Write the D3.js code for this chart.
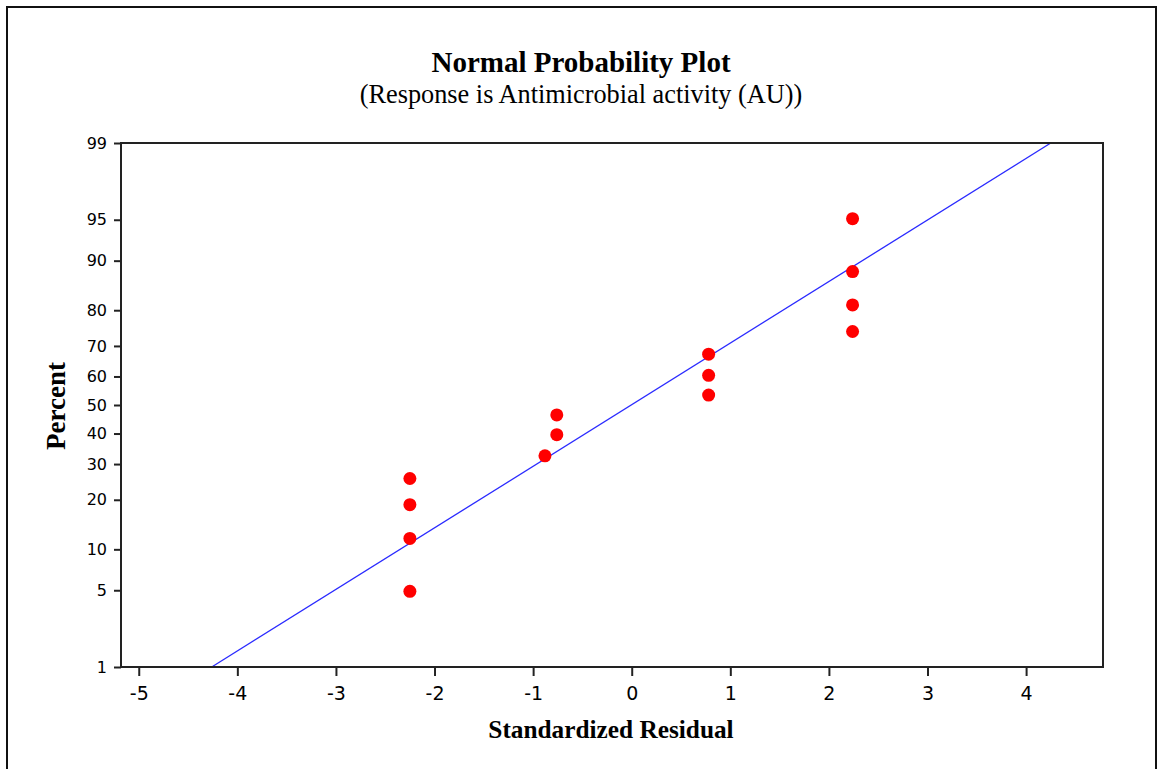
<!DOCTYPE html>
<html>
<head>
<meta charset="utf-8">
<script src="https://cdn.jsdelivr.net/npm/d3@7"></script>
<style>
  html, body { margin: 0; padding: 0; background: #fff; }
  svg { display: block; }
</style>
</head>
<body>
<svg id="chart" width="1158" height="769"></svg>
<script>
// ---- data ----
const residuals = [-2.25, -2.25, -2.25, -2.25, -0.88, -0.76, -0.76, 0.78, 0.78, 0.78, 2.24, 2.24, 2.24, 2.24];
const percents  = [4.9, 11.8, 18.8, 25.7, 32.6, 39.6, 46.5, 53.5, 60.4, 67.4, 74.3, 81.3, 88.2, 95.1];
const fitX      = [-4.26, 4.25];
const fitP      = [1, 99];
const xTicks    = [-5, -4, -3, -2, -1, 0, 1, 2, 3, 4];
const yTicks    = [1, 5, 10, 20, 30, 40, 50, 60, 70, 80, 90, 95, 99];
const titleText = "Normal Probability Plot";
const subtitleText = "(Response is Antimicrobial activity (AU))";
const xLabel = "Standardized Residual";
const yLabel = "Percent";

// ---- layout ----
const W = 1158, H = 769;
const plot = { left: 121, right: 1103, top: 143, bottom: 667 };

const svg = d3.select("#chart");

// outer frame (no bottom edge visible)
svg.append("path")
  .attr("d", `M7,${H + 5} L7,7 L1156,7 L1156,${H + 5}`)
  .attr("fill", "none").attr("stroke", "#111").attr("stroke-width", 2);

function inverseNormal(p) {
  // Acklam's algorithm for the inverse normal CDF
  const a = [-3.969683028665376e+01, 2.209460984245205e+02, -2.759285104469687e+02, 1.383577518672690e+02, -3.066479806614716e+01, 2.506628277459239e+00];
  const b = [-5.447609879822406e+01, 1.615858368580409e+02, -1.556989798598866e+02, 6.680131188771972e+01, -1.328068155288572e+01];
  const c = [-7.784894002430293e-03, -3.223964580411365e-01, -2.400758277161838e+00, -2.549732539343734e+00, 4.374664141464968e+00, 2.938163982698783e+00];
  const d = [7.784695709041462e-03, 3.224671290700398e-01, 2.445134137142996e+00, 3.754408661907416e+00];
  const pl = 0.02425, ph = 1 - pl;
  let q, r;
  if (p < pl) {
    q = Math.sqrt(-2 * Math.log(p));
    return (((((c[0]*q+c[1])*q+c[2])*q+c[3])*q+c[4])*q+c[5]) / ((((d[0]*q+d[1])*q+d[2])*q+d[3])*q+1);
  } else if (p <= ph) {
    q = p - 0.5; r = q * q;
    return (((((a[0]*r+a[1])*r+a[2])*r+a[3])*r+a[4])*r+a[5])*q / (((((b[0]*r+b[1])*r+b[2])*r+b[3])*r+b[4])*r+1);
  } else {
    q = Math.sqrt(-2 * Math.log(1 - p));
    return -(((((c[0]*q+c[1])*q+c[2])*q+c[3])*q+c[4])*q+c[5]) / ((((d[0]*q+d[1])*q+d[2])*q+d[3])*q+1);
  }
}

// scales
const x = d3.scaleLinear().domain([-5.18, 4.78]).range([plot.left, plot.right]);
const yz = d3.scaleLinear().domain([inverseNormal(0.01), inverseNormal(0.99)]).range([plot.bottom, plot.top]);
const y = p => yz(inverseNormal(p / 100));

// fitted line
const lineGen = d3.line().x(d => x(d[0])).y(d => y(d[1]));
svg.append("path")
  .datum(fitX.map((v, i) => [v, fitP[i]]))
  .attr("d", lineGen)
  .attr("fill", "none").attr("stroke", "#2a2aff").attr("stroke-width", 1.3);

// points
svg.append("g").selectAll("circle")
  .data(residuals.map((v, i) => [v, percents[i]]))
  .join("circle")
  .attr("cx", d => x(d[0])).attr("cy", d => y(d[1]))
  .attr("r", 6.5).attr("fill", "#ff0000");

// plot frame
svg.append("rect")
  .attr("x", plot.left).attr("y", plot.top)
  .attr("width", plot.right - plot.left).attr("height", plot.bottom - plot.top)
  .attr("fill", "none").attr("stroke", "#222").attr("stroke-width", 2);

// x axis
const xAxis = d3.axisBottom(x).tickValues(xTicks).tickSize(9).tickPadding(11).tickFormat(d => String(d));
const gx = svg.append("g").attr("transform", `translate(0,${plot.bottom})`).call(xAxis);
gx.select(".domain").remove();
gx.selectAll(".tick line").attr("stroke", "#222").attr("stroke-width", 2);
gx.selectAll(".tick text")
  .attr("fill", "#000")
  .style("font-family", "'DejaVu Sans', sans-serif").style("font-size", "19px");

// y axis (probability scale)
const yAxis = d3.axisLeft(yz)
  .tickValues(yTicks.map(t => inverseNormal(t / 100)))
  .tickSize(7).tickPadding(7)
  .tickFormat((d, i) => String(yTicks[i]));
const gy = svg.append("g").attr("transform", `translate(${plot.left},0)`).call(yAxis);
gy.select(".domain").remove();
gy.selectAll(".tick line").attr("stroke", "#222").attr("stroke-width", 2);
gy.selectAll(".tick text")
  .attr("fill", "#000")
  .style("font-family", "'DejaVu Sans', sans-serif").style("font-size", "16px");

// titles
svg.append("text")
  .attr("x", 581).attr("y", 72).attr("text-anchor", "middle")
  .style("font-family", "'Liberation Serif', 'Times New Roman', serif")
  .style("font-weight", "bold").style("font-size", "29px")
  .text(titleText);
svg.append("text")
  .attr("x", 581).attr("y", 103).attr("text-anchor", "middle")
  .style("font-family", "'Liberation Serif', 'Times New Roman', serif")
  .style("font-size", "26.3px")
  .text(subtitleText);

// axis labels
svg.append("text")
  .attr("x", 611).attr("y", 738).attr("text-anchor", "middle")
  .style("font-family", "'Liberation Serif', 'Times New Roman', serif")
  .style("font-weight", "bold").style("font-size", "25.3px")
  .text(xLabel);
svg.append("text")
  .attr("transform", "translate(65,406) rotate(-90)")
  .attr("text-anchor", "middle")
  .style("font-family", "'Liberation Serif', 'Times New Roman', serif")
  .style("font-weight", "bold").style("font-size", "27px")
  .text(yLabel);
</script>
</body>
</html>
